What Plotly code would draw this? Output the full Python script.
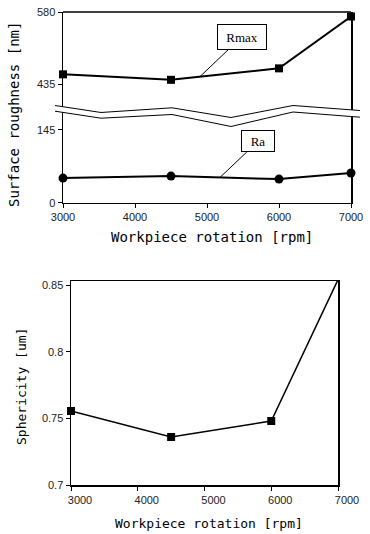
import numpy as np
import plotly.graph_objects as go

# ---------------- data ----------------
rpm = [3000, 4500, 6000, 7000]
rmax_nm = [455, 444, 467, 571]
ra_nm = [49, 53, 47, 59]
sphericity_um = [0.7555, 0.736, 0.748, 0.854]

x_ticks = [3000, 4000, 5000, 6000, 7000]
rough_ticks_low = [0, 145]
rough_ticks_high = [435, 580]
spher_ticks = [0.7, 0.75, 0.8, 0.85]
spher_ticktext = ["0.7", "0.75", "0.8", "0.85"]

W, H = 370, 534


def px(x, y):
    """window pixel -> paper fraction"""
    return x / W, 1 - y / H


def fx(x):
    return x / W


def fy(y):
    return 1 - y / H


# ---------------- figure ----------------
fig = go.Figure()

fig.add_trace(go.Scatter(x=rpm, y=rmax_nm, xaxis="x", yaxis="y3", mode="lines+markers",
                         line=dict(color="black", width=2),
                         marker=dict(symbol="square", size=8, color="black"),
                         cliponaxis=False, showlegend=False, hoverinfo="skip"))
fig.add_trace(go.Scatter(x=rpm, y=ra_nm, xaxis="x", yaxis="y", mode="lines+markers",
                         line=dict(color="black", width=2),
                         marker=dict(symbol="circle", size=9, color="black"),
                         cliponaxis=False, showlegend=False, hoverinfo="skip"))
fig.add_trace(go.Scatter(x=rpm, y=sphericity_um, xaxis="x2", yaxis="y2", mode="lines+markers",
                         line=dict(color="black", width=1.5),
                         marker=dict(symbol="square", size=8, color="black"),
                         cliponaxis=False, showlegend=False, hoverinfo="skip"))

tickfont = dict(family="Liberation Sans, Arial, sans-serif", size=11, color="#222")
axis_common = dict(showline=True, linecolor="black", linewidth=1.5, showgrid=False,
                   zeroline=False, ticks="outside", ticklen=4, tickcolor="black",
                   tickwidth=1, tickfont=tickfont, automargin=False,
                   ticklabeloverflow="allow")

# top panel geometry (window pixels)
top_x0, top_x1 = 63, 351
y_zero_px, y_break_px, y_top_px = 202.7, 112, 12
low_scale = 1.99      # nm per pixel in lower part
high_scale = 2.005    # nm per pixel in upper part

bx0, bx1 = 71, 338
by0, by1 = 485, 281

fig.update_layout(
    width=W, height=H, autosize=False,
    margin=dict(l=0, r=0, t=0, b=0, pad=0, autoexpand=False),
    paper_bgcolor="white", plot_bgcolor="white",
    xaxis=dict(domain=[fx(top_x0), fx(top_x1)], range=[3000, 7000], anchor="y",
               tickvals=x_ticks, **axis_common),
    yaxis=dict(domain=[fy(y_zero_px), fy(y_break_px)],
               range=[0, (y_zero_px - y_break_px) * low_scale], anchor="x",
               tickvals=rough_ticks_low, mirror=True, **axis_common),
    yaxis3=dict(domain=[fy(y_break_px), fy(y_top_px)],
                range=[580 - (y_break_px - y_top_px) * high_scale, 580], anchor="x",
                tickvals=rough_ticks_high, mirror=True, **axis_common),
    xaxis2=dict(domain=[fx(bx0), fx(bx1)], range=[3000, 7000], anchor="y2",
                tickvals=x_ticks, mirror=True, ticklabelshift=9, **axis_common),
    yaxis2=dict(domain=[fy(by0), fy(by1)], range=[0.7, 0.853], anchor="x2",
                tickvals=spher_ticks, ticktext=spher_ticktext, mirror=True, **axis_common),
)

shapes = []
# top frame line of the upper panel
shapes.append(dict(type="line", xref="paper", yref="paper",
                   x0=fx(top_x0), y0=fy(y_top_px), x1=fx(top_x1), y1=fy(y_top_px),
                   line=dict(color="black", width=1.5)))

# axis break (double zig-zag)
upper = [(55, 105.5), (101, 112.5), (172, 107.8), (231, 117.5), (293, 105.5), (360, 110.5)]
lower = [(55, 111.2), (101, 118.2), (172, 114.5), (231, 126.5), (293, 112), (360, 117.2)]


def path_of(points, close=False):
    s = ""
    for i, (x, y) in enumerate(points):
        u, v = px(x, y)
        s += ("M" if i == 0 else "L") + f"{u:.5f},{v:.5f} "
    if close:
        s += "Z"
    return s


shapes.append(dict(type="path", xref="paper", yref="paper",
                   path=path_of(upper + lower[::-1], close=True),
                   fillcolor="white", line=dict(width=0)))
shapes.append(dict(type="path", xref="paper", yref="paper", path=path_of(upper),
                   line=dict(color="black", width=1)))
shapes.append(dict(type="path", xref="paper", yref="paper", path=path_of(lower),
                   line=dict(color="black", width=1)))
fig.update_layout(shapes=shapes)

title_font = dict(family="DejaVu Sans Mono, monospace", color="black")
annotations = []


def title(text, x, y, size, angle=0):
    u, v = px(x, y)
    annotations.append(dict(text=text, xref="paper", yref="paper", x=u, y=v,
                            xanchor="center", yanchor="middle", textangle=angle,
                            showarrow=False, font=dict(size=size, **title_font)))


title("Workpiece rotation [rpm]", 212, 237, 14)
title("Surface roughness [nm]", 14, 115, 14, -90)
title("Workpiece rotation [rpm]", 209, 523, 13)
title("Sphericity [um]", 21, 387, 13, -90)

# series labels with leader lines
label_font = dict(family="Liberation Serif, Times New Roman, serif", size=13, color="black")
x_rm = 4900
annotations.append(dict(text="Rmax", xref="x", yref="y3", x=x_rm, y=float(np.interp(x_rm, rpm, rmax_nm)),
                        ax=42, ay=-40, showarrow=True, arrowhead=0, arrowwidth=1, arrowcolor="black",
                        bordercolor="black", borderwidth=1, bgcolor="white", width=46, height=22,
                        font=label_font))
x_ra = 5180
annotations.append(dict(text="Ra", xref="x", yref="y", x=x_ra, y=float(np.interp(x_ra, rpm, ra_nm)),
                        ax=38, ay=-36, showarrow=True, arrowhead=0, arrowwidth=1, arrowcolor="black",
                        bordercolor="black", borderwidth=1, bgcolor="white", width=30, height=18,
                        font=label_font))
fig.update_layout(annotations=annotations, hovermode=False, dragmode=False)

fig.write_html("out.html",
               config=dict(displayModeBar=False, staticPlot=True),
               post_script="document.body.style.margin='0px'; document.body.style.padding='0px';")
